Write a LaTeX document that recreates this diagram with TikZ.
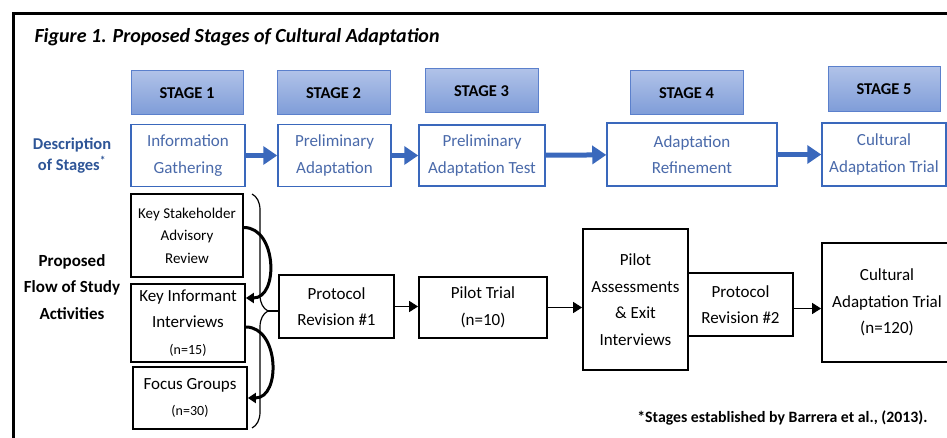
\documentclass[tikz,border=0pt]{standalone}
\usepackage{fontspec}
\setmainfont{Carlito}
\usetikzlibrary{arrows.meta,decorations.pathreplacing}

\definecolor{stagetop}{HTML}{B0C2E8}
\definecolor{stagebot}{HTML}{7E9CD8}
\definecolor{stageline}{HTML}{5B80CC}
\definecolor{descline}{HTML}{3A68BC}
\definecolor{desctext}{HTML}{4A6AAA}
\definecolor{desclabel}{HTML}{2E5597}

\begin{document}
\begin{tikzpicture}[%
      x=1pt, y=-1pt,
      stagebox/.style={draw=stageline, line width=1pt, top color=stagetop, bottom color=stagebot,
        font=\fontsize{16.5}{19}\selectfont\bfseries, inner sep=0pt},
      descbox/.style={draw=descline, line width=1.5pt, fill=white, text=desctext, align=center,
        font=\fontsize{17}{26.5}\selectfont, inner sep=0pt},
      flowbox/.style={draw=black, line width=1.8pt, fill=white, align=center,
        font=\fontsize{17}{26.5}\selectfont, inner sep=0pt},
      bluearrow/.style={draw=descline, line width=5pt, -{Triangle[length=14pt,width=18pt]}},
      blackarrow/.style={draw=black, line width=1.5pt, -{Triangle[length=9pt,width=11pt]}},
      curvearrow/.style={draw=black, line width=3pt, -{Triangle[length=8pt,width=10pt]}},
      ]
      \useasboundingbox (0,0) rectangle (947,438);
      \clip (0,0) rectangle (947,438);
      \draw [line width=3pt] (960,14) -- (13,14) -- (13,450);

      \node [anchor=west, font=\fontsize{20}{23}\selectfont\bfseries\itshape] (title) at (31,37)
        {Figure 1. Proposed Stages of Cultural Adaptation};

      \node [stagebox, minimum width=112pt, minimum height=44pt] (s1) at (187,93) {STAGE 1};
      \node [stagebox, minimum width=113pt, minimum height=44pt] (s2) at (333.5,93) {STAGE 2};
      \node [stagebox, minimum width=113pt, minimum height=44pt] (s3) at (481.5,91) {STAGE 3};
      \node [stagebox, minimum width=113pt, minimum height=44pt] (s4) at (686.5,93) {STAGE 4};
      \node [stagebox, minimum width=112pt, minimum height=45pt] (s5) at (884,89.5) {STAGE 5};

      \node [align=center, text=desclabel, font=\fontsize{16.5}{21}\selectfont\bfseries] (desc) at (72,156)
        {Description\\of Stages\textsuperscript{*}};

      \node [descbox, minimum width=114pt, minimum height=62pt] (d1) at (188,155.5) {Information\\Gathering};
      \node [descbox, minimum width=113pt, minimum height=62pt] (d2) at (334.5,155.5) {Preliminary\\Adaptation};
      \node [descbox, minimum width=126pt, minimum height=61pt] (d3) at (482,155.5) {Preliminary\\Adaptation Test};
      \node [descbox, minimum width=170pt, minimum height=63pt] (d4) at (692,154.5) {Adaptation\\Refinement};
      \node [descbox, minimum width=124pt, minimum height=63pt] (d5) at (884,154.5) {Cultural\\Adaptation Trial};

      \draw [bluearrow] (d1) -- (d2);
      \draw [bluearrow] (d2) -- (d3);
      \draw [bluearrow] (d3) -- (d4);
      \draw [bluearrow] (d4) -- (d5);

      \node [align=center, font=\fontsize{17}{26.5}\selectfont\bfseries] (flow) at (72,287)
        {Proposed\\Flow of Study\\Activities};

      \node [flowbox, minimum width=112pt, minimum height=83pt, font=\fontsize{15}{22.5}\selectfont] (ks) at (187,235.5)
        {Key Stakeholder\\Advisory\\Review};
      \node [flowbox, minimum width=114pt, minimum height=78pt] (ki) at (188,323)
        {Key Informant\\Interviews\\{\fontsize{14}{24}\selectfont (n=15)}};
      \node [flowbox, minimum width=114pt, minimum height=62pt] (fg) at (190,398)
        {Focus Groups\\{\fontsize{14}{23}\selectfont (n=30)}};

      \draw [curvearrow] ([yshift=8pt]ks.east) to[out=0, in=0, looseness=1.2] ([yshift=25pt]ki.east);
      \draw [curvearrow] ([yshift=-4pt]ki.east) to[out=0, in=0, looseness=1.2] (fg.east);

      \draw [line width=1.2pt, decorate, decoration={brace, amplitude=16pt}] (252,194) -- (252,428);
      \coordinate (tip) at (268,311);

      \node [flowbox, minimum width=115pt, minimum height=63pt] (pr1) at (336.5,306.5) {Protocol\\Revision \#1};
      \node [flowbox, minimum width=128pt, minimum height=61pt] (pt) at (483,307.5)
        {Pilot Trial\\(n=10)};
      \node [flowbox, minimum width=105pt, minimum height=141pt] (pa) at (635.5,299.5)
        {Pilot\\Assessments\\\& Exit\\Interviews};
      \node [flowbox, minimum width=105pt, minimum height=63pt] (pr2) at (740.5,304.5) {Protocol\\Revision \#2};
      \node [flowbox, minimum width=130pt, minimum height=119pt] (cat) at (887,302.5)
        {Cultural\\Adaptation Trial\\(n=120)};

      \draw [line width=1.5pt] (tip) -- (tip -| pr1.west);
      \draw [blackarrow] (pr1.east) -- (pr1.east -| pt.west);
      \draw [blackarrow] (pt.east) -- (pt.east -| pa.west);
      \draw [blackarrow] ([yshift=-4pt]pr2.east) -- ([yshift=-4pt]pr2.east -| cat.west);

      \node [anchor=east, font=\fontsize{15.8}{18}\selectfont\bfseries] (note) at (931,418)
        {*Stages established by Barrera et al., (2013).};
\end{tikzpicture}
\end{document}
